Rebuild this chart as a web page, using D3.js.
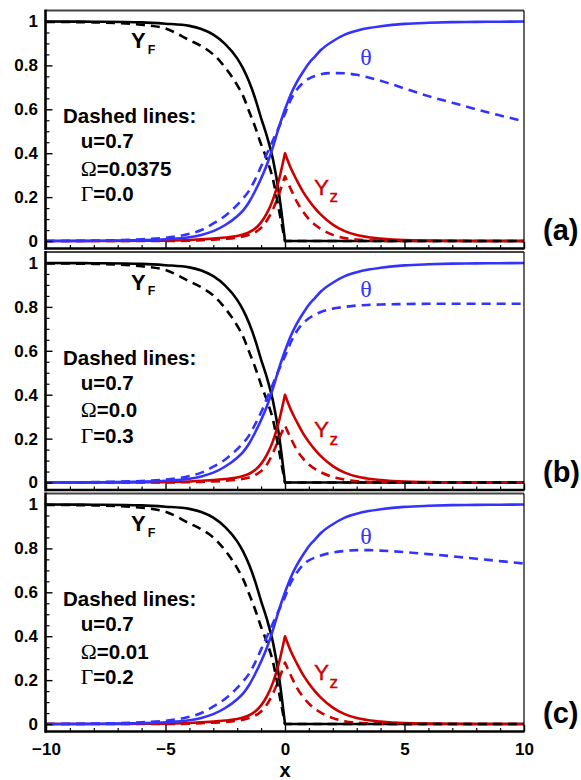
<!DOCTYPE html>
<html>
<head>
<meta charset="utf-8">
<script src="https://cdn.jsdelivr.net/npm/d3@7"></script>
<style>
  html, body { margin: 0; padding: 0; background: #fff; }
  svg { display: block; }
</style>
</head>
<body>
<svg id="chart" width="581" height="780"></svg>
<script>
// Sample positions shared by every profile
const xs = [-10, -8, -6, -5, -4, -3.5, -3, -2.5, -2, -1.75, -1.5, -1.25, -1, -0.75, -0.5, -0.25,
            0, 0.25, 0.5, 0.75, 1, 1.25, 1.5, 2, 2.5, 3, 3.5, 4, 5, 6, 7, 8, 9, 10];

// Reference (solid) profiles, identical in all three panels
const yfSolid = [1.0, 0.999, 0.996, 0.99, 0.98, 0.966, 0.94, 0.897, 0.832, 0.785, 0.725, 0.65, 0.56, 0.475, 0.37, 0.215,
                 0, 0, 0, 0, 0, 0, 0, 0, 0, 0, 0, 0, 0, 0, 0, 0, 0, 0];
const thetaSolid = [0.0, 0.001, 0.004, 0.008, 0.017, 0.028, 0.045, 0.073, 0.113, 0.14, 0.178, 0.228, 0.285, 0.35, 0.43, 0.52,
                    0.6, 0.67, 0.725, 0.77, 0.81, 0.84, 0.87, 0.91, 0.94, 0.958, 0.97, 0.978, 0.989, 0.994, 0.997, 0.998, 0.999, 1.0];
const yzSolid = [0, 0, 0.001, 0.002, 0.005, 0.008, 0.011, 0.016, 0.023, 0.03, 0.04, 0.057, 0.085, 0.128, 0.19, 0.28,
                 0.40, 0.33, 0.275, 0.225, 0.185, 0.15, 0.12, 0.075, 0.045, 0.027, 0.017, 0.011, 0.004, 0.002, 0.001, 0, 0, 0];

// Dashed profiles, panel (a): u=0.7, Omega=0.0375, Gamma=0.0
const yfDashA = [0.998, 0.996, 0.985, 0.968, 0.915, 0.888, 0.85, 0.79, 0.71, 0.66, 0.59, 0.52, 0.44, 0.37, 0.28, 0.14,
                 0, 0, 0, 0, 0, 0, 0, 0, 0, 0, 0, 0, 0, 0, 0, 0, 0, 0];
const thetaDashA = [0.0, 0.002, 0.008, 0.015, 0.033, 0.05, 0.08, 0.115, 0.165, 0.195, 0.23, 0.28, 0.34, 0.40, 0.46, 0.52,
                    0.58, 0.645, 0.69, 0.72, 0.74, 0.752, 0.76, 0.765, 0.764, 0.757, 0.745, 0.73, 0.695, 0.66, 0.63, 0.6, 0.572, 0.545];
const yzDashA = [0, 0, 0, 0, 0.002, 0.004, 0.006, 0.01, 0.016, 0.021, 0.028, 0.04, 0.06, 0.095, 0.145, 0.215,
                 0.295, 0.235, 0.178, 0.135, 0.1, 0.074, 0.055, 0.028, 0.014, 0.007, 0.003, 0.001, 0, 0, 0, 0, 0, 0];

// Dashed profiles, panel (b): u=0.7, Omega=0.0, Gamma=0.3
const yfDashB = [0.998, 0.996, 0.985, 0.968, 0.916, 0.889, 0.852, 0.793, 0.714, 0.664, 0.595, 0.525, 0.445, 0.372, 0.285, 0.145,
                 0, 0, 0, 0, 0, 0, 0, 0, 0, 0, 0, 0, 0, 0, 0, 0, 0, 0];
const thetaDashB = [0.0, 0.002, 0.007, 0.013, 0.03, 0.045, 0.072, 0.105, 0.152, 0.18, 0.215, 0.265, 0.32, 0.385, 0.45, 0.515,
                    0.575, 0.64, 0.69, 0.725, 0.748, 0.765, 0.777, 0.792, 0.80, 0.806, 0.809, 0.811, 0.813, 0.814, 0.814, 0.814, 0.814, 0.814];
const yzDashB = [0, 0, 0, 0, 0.002, 0.003, 0.005, 0.008, 0.013, 0.017, 0.023, 0.034, 0.052, 0.083, 0.135, 0.2,
                 0.26, 0.2, 0.147, 0.11, 0.082, 0.062, 0.047, 0.025, 0.013, 0.006, 0.003, 0.001, 0, 0, 0, 0, 0, 0];

// Dashed profiles, panel (c): u=0.7, Omega=0.01, Gamma=0.2
const yfDashC = [0.998, 0.996, 0.985, 0.967, 0.914, 0.887, 0.85, 0.79, 0.71, 0.66, 0.592, 0.522, 0.442, 0.37, 0.282, 0.142,
                 0, 0, 0, 0, 0, 0, 0, 0, 0, 0, 0, 0, 0, 0, 0, 0, 0, 0];
const thetaDashC = [0.0, 0.002, 0.008, 0.015, 0.033, 0.05, 0.08, 0.115, 0.165, 0.195, 0.23, 0.28, 0.34, 0.40, 0.46, 0.52,
                    0.578, 0.645, 0.69, 0.725, 0.745, 0.758, 0.768, 0.781, 0.788, 0.792, 0.792, 0.79, 0.783, 0.774, 0.764, 0.753, 0.742, 0.731];
const yzDashC = [0, 0, 0, 0, 0.002, 0.004, 0.006, 0.009, 0.015, 0.02, 0.027, 0.038, 0.057, 0.09, 0.14, 0.205,
                 0.28, 0.22, 0.165, 0.125, 0.093, 0.07, 0.052, 0.027, 0.013, 0.006, 0.003, 0.001, 0, 0, 0, 0, 0, 0];

// Panel captions and parameter annotations
const panelTags = ["(a)", "(b)", "(c)"];
const uValues = ["0.7", "0.7", "0.7"];
const omegaValues = ["0.0375", "0.0", "0.01"];
const gammaValues = ["0.0", "0.3", "0.2"];

const yTickValues = [0, 0.2, 0.4, 0.6, 0.8, 1];
const xTickValues = [-10, -5, 0, 5, 10];

const dashedSets = [
  { yf: yfDashA, theta: thetaDashA, yz: yzDashA },
  { yf: yfDashB, theta: thetaDashB, yz: yzDashB },
  { yf: yfDashC, theta: thetaDashC, yz: yzDashC }
];

const BLUE = "#3333ff", RED = "#cc0000", BLACK = "#000";
const SANS = "Arial, 'Liberation Sans', Helvetica, sans-serif";
const SERIF = "'Times New Roman', 'Liberation Serif', serif";

const svg = d3.select("#chart");
const left = 46, right = 524;
const panelTops = [10.5, 252, 493.5];
const panelH = 238;

const x = d3.scaleLinear().domain([-10, 10]).range([left, right]);

panelTags.forEach((tag, pi) => {
  const top = panelTops[pi];
  const y = d3.scaleLinear().domain([-0.034, 1.05]).range([top + panelH, top]);
  const g = svg.append("g");
  const set = dashedSets[pi];

  // Each profile is drawn in two halves so the kink at the flame sheet (x=0) stays sharp
  const line = d3.line().x(d => x(d[0])).y(d => y(d[1])).curve(d3.curveMonotoneX);
  const pathOf = ys => {
    const pts = xs.map((v, i) => [v, ys[i]]);
    const a = line(pts.filter(p => p[0] <= 0));
    const b = line(pts.filter(p => p[0] >= 0));
    return a + b.replace(/^M/, "L");
  };
  const draw = (ys, color, dashed) => {
    g.append("path")
      .attr("d", pathOf(ys))
      .attr("fill", "none")
      .attr("stroke", color)
      .attr("stroke-width", 2.6)
      .attr("stroke-linejoin", "round")
      .attr("stroke-dasharray", dashed ? "9,6" : null);
  };

  draw(yfSolid, BLACK, false);
  draw(yzSolid, RED, false);
  draw(set.yz, RED, true);
  draw(set.yf, BLACK, true);
  draw(thetaSolid, BLUE, false);
  draw(set.theta, BLUE, true);

  // Frame: heavy left and bottom axes, light top and right edges
  g.append("line").attr("x1", x(-10)).attr("x2", x(10)).attr("y1", top).attr("y2", top)
    .attr("stroke", "#444").attr("stroke-width", 2);
  g.append("line").attr("x1", x(10)).attr("x2", x(10)).attr("y1", top).attr("y2", top + panelH)
    .attr("stroke", BLACK).attr("stroke-width", 1.2);

  // y axis: major ticks every 0.2, minor every 0.05, drawn inward
  const yMinor = d3.range(0, 1.0001, 0.05).filter(v => Math.abs(v * 5 - Math.round(v * 5)) > 1e-6);
  g.append("g").attr("transform", `translate(${x(-10)},0)`)
    .call(d3.axisLeft(y).tickValues(yMinor).tickSize(-3.5).tickFormat(""))
    .call(a => a.select(".domain").remove())
    .selectAll("line").attr("stroke-width", 1.2);
  const yAx = g.append("g").attr("transform", `translate(${x(-10)},0)`)
    .call(d3.axisLeft(y).tickValues(yTickValues).tickSize(-6.5).tickPadding(8)
      .tickFormat(d => d === 0 ? "0" : d === 1 ? "1" : d3.format(".1f")(d)));
  yAx.select(".domain").remove();
  yAx.selectAll("line").attr("stroke-width", 1.4);
  yAx.selectAll("text").attr("font-family", SANS).attr("font-weight", "bold")
    .attr("font-size", 17).attr("fill", BLACK);

  // x axis: major ticks every 5, minor every 1, drawn inward
  const xMinor = d3.range(-10, 10.001, 1).filter(v => v % 5 !== 0);
  const bottom = top + panelH;
  g.append("g").attr("transform", `translate(0,${bottom})`)
    .call(d3.axisBottom(x).tickValues(xMinor).tickSize(-3.5).tickFormat(""))
    .call(a => a.select(".domain").remove())
    .selectAll("line").attr("stroke-width", 1.2);
  const xAx = g.append("g").attr("transform", `translate(0,${bottom})`)
    .call(d3.axisBottom(x).tickValues(xTickValues).tickSize(-6.5).tickPadding(11)
      .tickFormat(pi === 2 ? d3.format("d") : ""));
  xAx.select(".domain").remove();
  xAx.selectAll("line").attr("stroke-width", 1.4);
  xAx.selectAll("text").attr("font-family", SANS).attr("font-weight", "bold")
    .attr("font-size", 17).attr("fill", BLACK);

  g.append("line").attr("x1", x(-10) - 1).attr("x2", x(10) + 0.6).attr("y1", bottom).attr("y2", bottom)
    .attr("stroke", BLACK).attr("stroke-width", 2.6);
  g.append("line").attr("x1", x(-10) - 0.5).attr("x2", x(-10) - 0.5).attr("y1", top - 1).attr("y2", bottom + 1.3)
    .attr("stroke", BLACK).attr("stroke-width", 2.6);

  // Curve labels
  const yfLab = g.append("text").attr("x", 131).attr("y", top + 37.5)
    .attr("font-family", SANS).attr("font-weight", "bold").attr("font-size", 22).attr("fill", BLACK);
  yfLab.append("tspan").text("Y");
  yfLab.append("tspan").attr("dx", 2).attr("dy", 5.5).attr("font-size", 12.5).text("F");

  const thetaY = [0.80, 0.845, 0.82][pi];
  g.append("text").attr("x", 366).attr("y", y(thetaY)).attr("text-anchor", "middle")
    .attr("font-family", SERIF).attr("font-size", 24).attr("fill", BLUE).text("θ");

  const yzY = [0.21, 0.207, 0.2][pi];
  const yzLab = g.append("text").attr("x", 314).attr("y", y(yzY))
    .attr("font-family", SANS).attr("font-size", 22.5).attr("fill", RED)
    .attr("stroke", RED).attr("stroke-width", 0.4);
  yzLab.append("tspan").text("Y");
  yzLab.append("tspan").attr("dx", 0.5).attr("dy", 7.5).attr("font-size", 17).text("z");

  // Parameter block for the dashed profiles
  const note = g.append("g").attr("font-family", SANS).attr("font-weight", "bold")
    .attr("font-size", 20.5).attr("fill", BLACK);
  note.append("text").attr("x", 63).attr("y", top + 112.5).text("Dashed lines:");
  note.append("text").attr("x", 80.7).attr("y", top + 137.5).text("u=" + uValues[pi]);
  const om = note.append("text").attr("x", 80.7).attr("y", top + 165);
  om.append("tspan").attr("font-family", SERIF).attr("font-weight", "normal").attr("font-size", 21.5).text("Ω");
  om.append("tspan").text("=" + omegaValues[pi]);
  const ga = note.append("text").attr("x", 80.7).attr("y", top + 190.5);
  ga.append("tspan").attr("font-family", SERIF).attr("font-weight", "normal").attr("font-size", 21.5).text("Γ");
  ga.append("tspan").text("=" + gammaValues[pi]);

  // Panel tag
  g.append("text").attr("x", 543).attr("y", y(0) - 1)
    .attr("font-family", SANS).attr("font-weight", "bold").attr("font-size", 29).attr("fill", BLACK)
    .text(tag);
});

// Shared x-axis title
svg.append("text").attr("x", x(0)).attr("y", 776.5).attr("text-anchor", "middle")
  .attr("font-family", SANS).attr("font-weight", "bold").attr("font-size", 20).text("x");
</script>
</body>
</html>
